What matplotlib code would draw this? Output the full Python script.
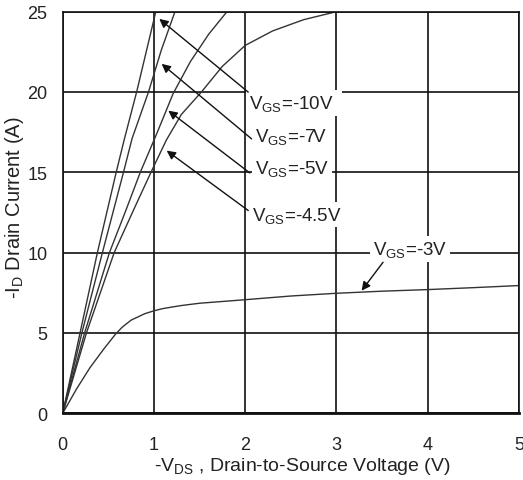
import matplotlib
matplotlib.use("Agg")
import matplotlib.pyplot as plt

plt.rcParams["font.family"] = ["Liberation Sans", "DejaVu Sans"]
plt.rcParams["mathtext.fontset"] = "custom"
plt.rcParams["mathtext.rm"] = "Liberation Sans"
plt.rcParams["mathtext.it"] = "Liberation Sans"

# output characteristics, -VDS (V) vs -ID (A)
vds_10 = [0, 0.19, 0.38, 0.586, 0.677, 0.81, 1.02]
id_10 = [0, 5.0, 10.0, 15.0, 17.1, 20.0, 25.0]

vds_7 = [0, 0.21, 0.435, 0.666, 0.76, 0.94, 1.08, 1.23]
id_7 = [0, 5.0, 10.0, 15.0, 17.1, 20.0, 22.6, 25.0]

vds_5 = [0, 0.24, 0.512, 0.69, 0.85, 1.03, 1.21, 1.4, 1.6, 1.8]
id_5 = [0, 5.0, 10.0, 12.6, 15.0, 17.4, 19.9, 21.9, 23.6, 25.0]

vds_45 = [0, 0.26, 0.564, 0.78, 0.967, 1.135, 1.3, 1.52, 1.75, 2.0, 2.3, 2.64, 3.0]
id_45 = [0, 5.0, 10.0, 12.7, 15.0, 17.0, 18.6, 20.0, 21.6, 22.9, 23.8, 24.5, 25.0]

vds_3 = [0, 0.15, 0.3, 0.45, 0.575, 0.65, 0.75, 0.9, 1.0, 1.1, 1.29, 1.5, 2.0,
         2.5, 3.0, 3.5, 4.0, 4.5, 5.0]
id_3 = [0, 1.5, 2.85, 4.0, 4.9, 5.35, 5.8, 6.2, 6.38, 6.52, 6.7, 6.85, 7.07,
        7.3, 7.47, 7.6, 7.7, 7.82, 7.95]

labels = [r"V$_{\rm GS}$=-10V  ", r"V$_{\rm GS}$=-7V", r"V$_{\rm GS}$=-5V",
          r"V$_{\rm GS}$=-4.5V", r"V$_{\rm GS}$=-3V"]
label_xy = [(2.04, 19.3), (2.107, 17.24), (2.107, 15.27), (2.075, 12.37), (3.40, 10.24)]
arrow_head = [(1.058, 24.55), (1.084, 21.75), (1.157, 18.84), (1.139, 16.35), (3.275, 7.63)]
arrow_tail = [(2.033, 19.99), (2.07, 17.08), (2.05, 14.96), (2.033, 12.62), (3.51, 9.40)]

fig = plt.figure(figsize=(5.23, 4.81), dpi=100)
ax = fig.add_axes([0.1199, 0.1387, 0.8725, 0.835])

for x, y in [(vds_10, id_10), (vds_7, id_7), (vds_5, id_5), (vds_45, id_45), (vds_3, id_3)]:
    ax.plot(x, y, color="#333333", lw=1.0, zorder=2)

ax.set_xlim(0, 5)
ax.set_ylim(0, 25)
ax.set_xticks([0, 1, 2, 3, 4, 5])
ax.set_yticks([0, 5, 10, 15, 20, 25])
ax.grid(True, color="#111111", lw=1.2)
ax.set_axisbelow(True)
ax.tick_params(length=0, labelsize=13, colors="#222222")
ax.tick_params(axis="x", pad=16)
ax.tick_params(axis="y", pad=11)
for s in ax.spines.values():
    s.set_color("#111111")
    s.set_linewidth(1.2)
ax.spines["bottom"].set_linewidth(2.0)

ax.set_xlabel(r"-V$_{\rm DS}$ , Drain-to-Source Voltage (V)", fontsize=14, color="#222222")
ax.xaxis.set_label_coords(0.525, -0.104)
ax.set_ylabel(r"-I$_{\rm D}$ Drain Current (A)", fontsize=14.5, color="#222222")
ax.yaxis.set_label_coords(-0.08, 0.514)

for txt, (tx, ty), head, tail in zip(labels, label_xy, arrow_head, arrow_tail):
    ax.text(tx, ty, txt, fontsize=13.5, color="#222222", ha="left", va="center",
            bbox=dict(boxstyle="square,pad=0.15", fc="white", ec="none"), zorder=4)
    ax.annotate("", xy=head, xytext=tail,
                arrowprops=dict(arrowstyle="-|>", color="#111111", lw=1.0,
                                mutation_scale=13, shrinkA=0, shrinkB=0),
                zorder=5)

fig.savefig("out.png", dpi=100)
